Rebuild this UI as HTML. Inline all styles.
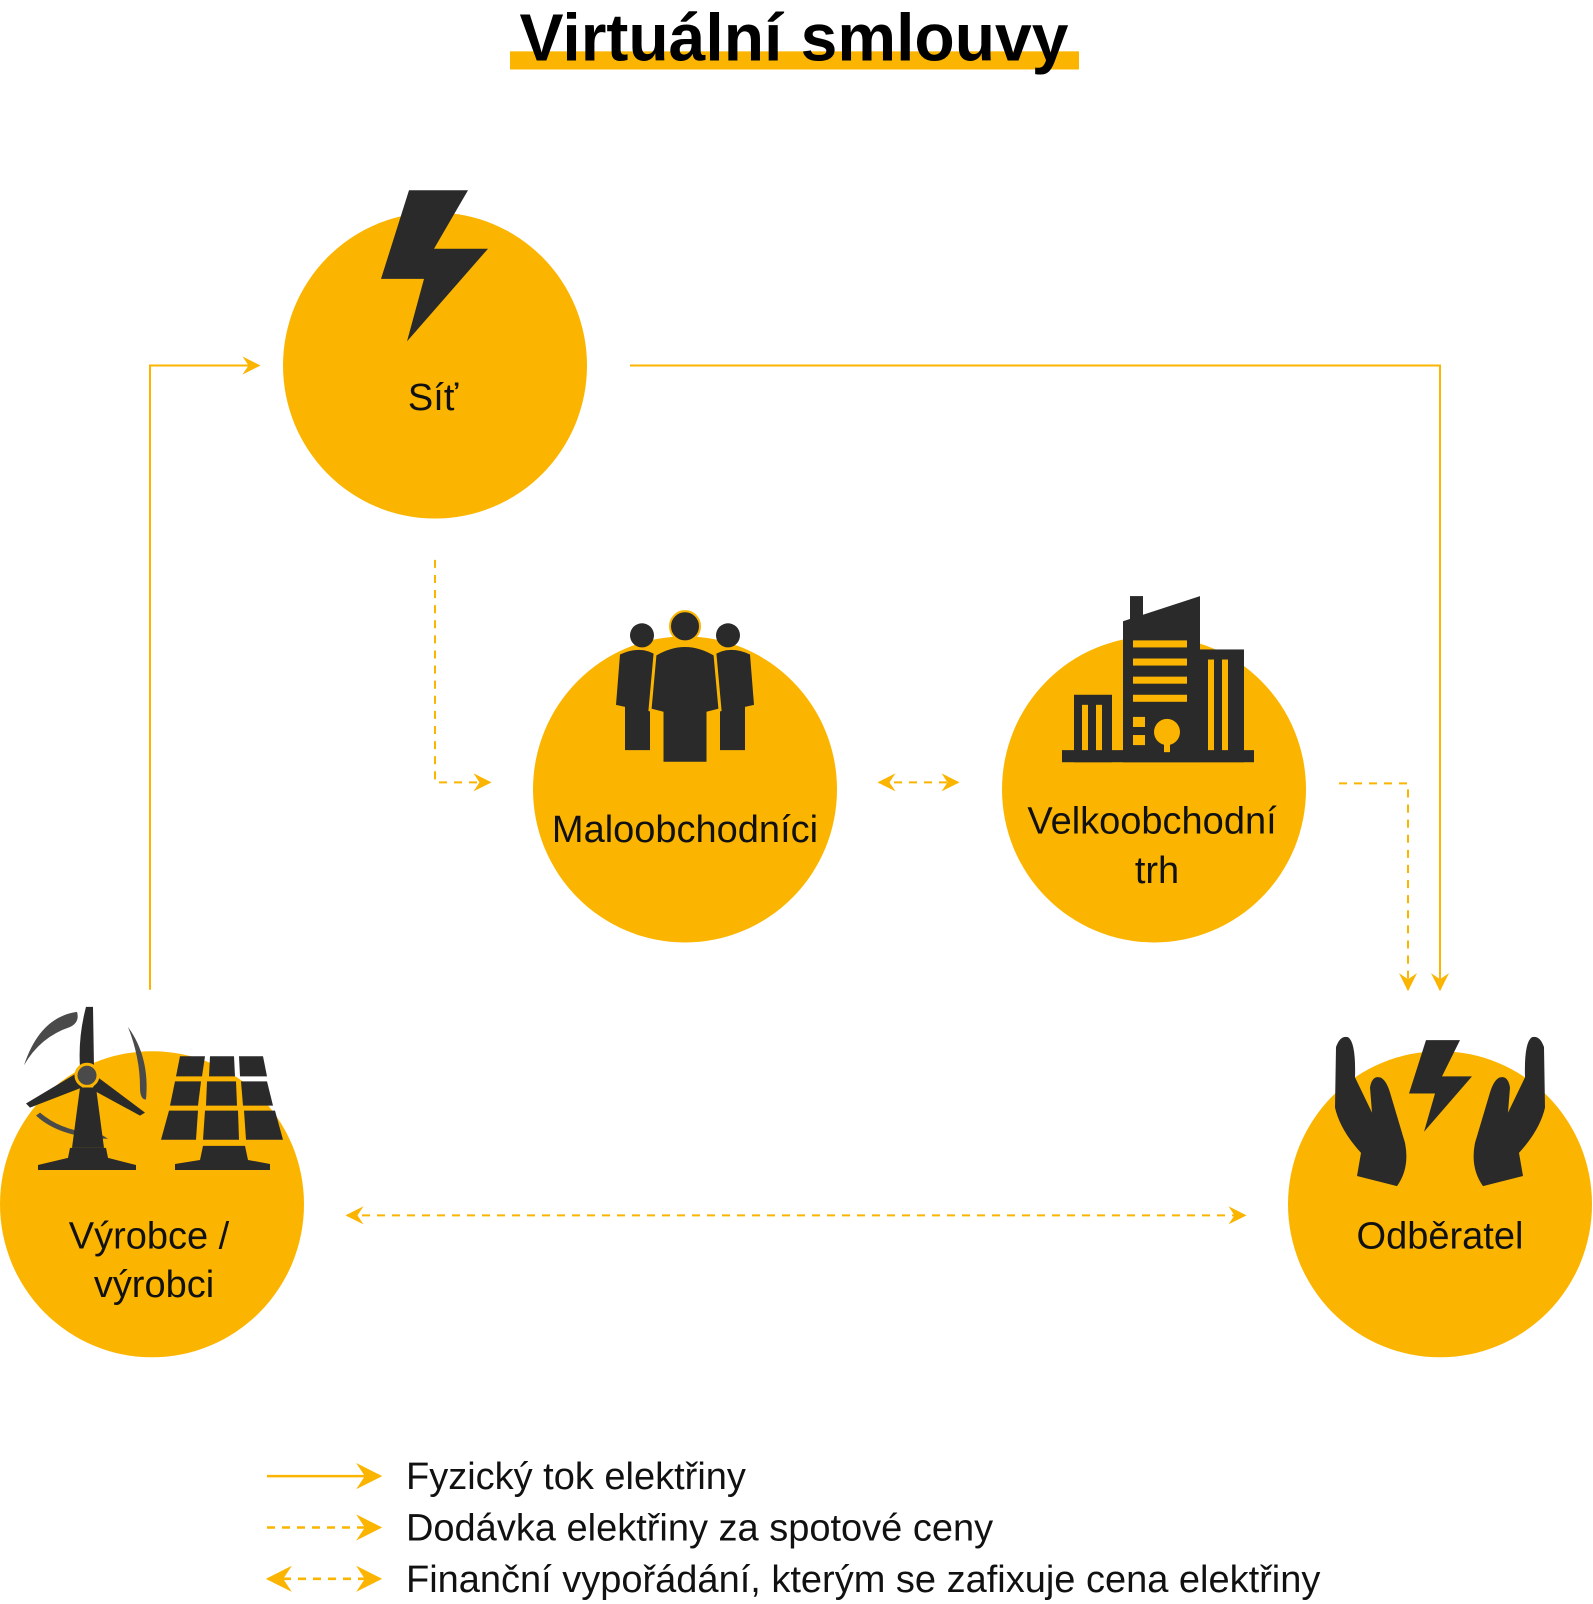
<!DOCTYPE html>
<html><head><meta charset="utf-8"><style>
html,body{margin:0;padding:0;background:#fff;}
svg{display:block;}
text{font-family:"Liberation Sans",sans-serif;}
</style></head><body>
<svg width="1593" height="1604" viewBox="0 0 1593 1604" xmlns="http://www.w3.org/2000/svg">
<defs>
<marker id="ah" viewBox="0 0 12 12" refX="11" refY="6" markerWidth="18" markerHeight="18" markerUnits="userSpaceOnUse" orient="auto-start-reverse">
<path d="M0,0 L12,6 L0,12 L4,6 Z" fill="#fbb500"/>
</marker>
<marker id="ahL" viewBox="0 0 12 12" refX="11" refY="6" markerWidth="28" markerHeight="26" markerUnits="userSpaceOnUse" orient="auto-start-reverse">
<path d="M0,0 L12,6 L0,12 L4,6 Z" fill="#fbb500"/>
</marker>
</defs>
<g transform="scale(1,1.0069)">
<!-- title -->
<rect x="510" y="51" width="569" height="18" fill="#fbb500"/>
<text x="794" y="60" font-size="66" font-weight="bold" text-anchor="middle" fill="#000">Virtuální smlouvy</text>

<!-- connectors -->
<g fill="none" stroke="#fbb500" stroke-width="2">
<path d="M150,983 V363 H259" marker-end="url(#ah)"/>
<path d="M630,363 H1440 V983" marker-end="url(#ah)"/>
<g stroke-dasharray="8,7">
<path d="M435,556 V777 H490" marker-end="url(#ah)"/>
<path d="M879,777 H958" marker-start="url(#ah)" marker-end="url(#ah)"/>
<path d="M1339,778 H1408 V983" marker-end="url(#ah)"/>
<path d="M347,1207 H1245" marker-start="url(#ah)" marker-end="url(#ah)"/>
</g>
</g>

<!-- circles -->
<g fill="#fbb500">
<circle cx="435" cy="363" r="152"/>
<circle cx="685" cy="784" r="152"/>
<circle cx="1154" cy="784" r="152"/>
<circle cx="152" cy="1196" r="152"/>
<circle cx="1440" cy="1196" r="152"/>
</g>

<!-- icons -->
<g fill="#2a2a2a">
<polygon points="409,189 468,189 434,247 488,247 407,339 424,277 381,277"/>
<circle cx="642" cy="631" r="12"/>
<path d="M620,650 Q642,640 658,652 L656,700 L650,702 L650,745 L625,745 L625,702 L616,700 Z"/>
<circle cx="728" cy="631" r="12"/>
<path d="M712,652 Q728,640 750,650 L754,700 L745,702 L745,745 L720,745 L720,702 L714,700 Z"/>
<circle cx="685" cy="622" r="15" stroke="#fbb500" stroke-width="2"/>
<path d="M655,650 Q685,632 715,650 L720,705 L708,708 L708,758 L662,758 L662,708 L650,705 Z" stroke="#fbb500" stroke-width="3"/>
<rect x="1130" y="592" width="13" height="25"/>
<polygon points="1123,617 1200,592 1200,757 1123,757"/>
<rect x="1074" y="690" width="38" height="67"/>
<rect x="1200" y="645" width="44" height="112"/>
<rect x="1062" y="745" width="192" height="12"/>
</g>
<g fill="#fbb500">
<rect x="1133" y="636" width="54" height="7"/>
<rect x="1133" y="654" width="54" height="7"/>
<rect x="1133" y="672" width="54" height="7"/>
<rect x="1133" y="690" width="54" height="7"/>
<rect x="1133" y="712" width="12" height="10"/>
<rect x="1133" y="730" width="12" height="10"/>
<circle cx="1167" cy="727" r="13"/>
<rect x="1164" y="727" width="6" height="20"/>
<rect x="1082" y="700" width="6" height="45"/>
<rect x="1096" y="700" width="6" height="45"/>
<rect x="1208" y="655" width="6" height="90"/>
<rect x="1222" y="655" width="6" height="90"/>
</g>
<g fill="#4a4a4a">
<path d="M24,1058 Q40,1010 77,1005 Q80,1015 70,1020 Q40,1030 24,1058 Z"/>
<path d="M128,1020 Q150,1050 146,1092 Q140,1092 140,1080 Q140,1050 128,1020 Z"/>
<path d="M36,1108 Q60,1130 108,1131 Q100,1125 90,1125 Q60,1122 40,1105 Z"/>
</g>
<g fill="#2a2a2a">
<path d="M86,1000 L93,1000 L94,1060 L80,1060 Q78,1030 86,1000 Z"/>
<path d="M78,1065 L26,1096 L30,1100 L82,1080 Z"/>
<path d="M98,1070 L145,1105 L140,1108 L92,1082 Z"/>
<circle cx="87" cy="1068" r="11" stroke="#fbb500" stroke-width="3" fill="#4a4a4a"/>
<polygon points="80,1080 96,1080 104,1140 72,1140"/>
<polygon points="70,1140 106,1140 108,1150 136,1157 136,1162 38,1162 38,1157 68,1150"/>
<polygon points="180,1049 205,1049 202,1069 176,1069"/>
<polygon points="210,1049 234,1049 235,1069 209,1069"/>
<polygon points="239,1049 263,1049 267,1069 240,1069"/>
<polygon points="175,1074 201,1074 198,1098 170,1098"/>
<polygon points="207,1074 236,1074 237,1098 206,1098"/>
<polygon points="241,1074 267,1074 273,1098 243,1098"/>
<polygon points="169,1103 198,1103 196,1132 161,1132"/>
<polygon points="205,1103 238,1103 239,1132 203,1132"/>
<polygon points="244,1103 275,1103 283,1132 246,1132"/>
<polygon points="203,1138 245,1138 248,1152 270,1156 270,1162 175,1162 175,1156 200,1152"/>
<polygon points="1426,1033 1460,1033 1442,1069 1472,1069 1424,1124 1435,1086 1409,1086"/>
<path d="M1336,1040 Q1340,1028 1348,1030 Q1356,1035 1355,1070 L1372,1105 L1370,1080 Q1372,1068 1380,1070 Q1386,1072 1390,1085 L1405,1135 Q1410,1160 1397,1178 L1357,1168 L1361,1145 Q1340,1122 1335,1100 Z"/>
<path d="M1544,1040 Q1540,1028 1532,1030 Q1524,1035 1525,1070 L1508,1105 L1510,1080 Q1508,1068 1500,1070 Q1494,1072 1490,1085 L1475,1135 Q1470,1160 1483,1178 L1523,1168 L1519,1145 Q1540,1122 1545,1100 Z"/>
</g>

<!-- labels -->
<g font-size="38" fill="#111" text-anchor="middle">
<text x="433" y="407">Síť</text>
<text x="685" y="836">Maloobchodníci</text>
<text x="1152" y="828">Velkoobchodní</text>
<text x="1157" y="877">trh</text>
<text x="149" y="1240">Výrobce /</text>
<text x="154" y="1288">výrobci</text>
<text x="1440" y="1240">Odběratel</text>
</g>

<!-- legend -->
<g fill="none" stroke="#fbb500" stroke-width="2.5">
<path d="M267,1466 H380" marker-end="url(#ahL)"/>
<path d="M267,1517 H380" stroke-dasharray="8,7" marker-end="url(#ahL)"/>
<path d="M268,1568 H380" stroke-dasharray="8,7" marker-start="url(#ahL)" marker-end="url(#ahL)"/>
</g>
<g font-size="38" fill="#111">
<text x="406" y="1479">Fyzický tok elektřiny</text>
<text x="406" y="1530">Dodávka elektřiny za spotové ceny</text>
<text x="406" y="1581">Finanční vypořádání, kterým se zafixuje cena elektřiny</text>
</g>
</g>
</svg>
</body></html>
